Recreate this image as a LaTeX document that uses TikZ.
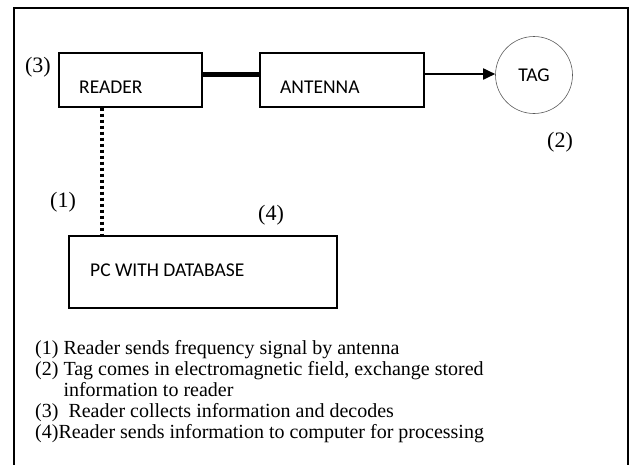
\documentclass[tikz,border=0pt]{standalone}
\usepackage{fontspec}
\setmainfont{Liberation Serif}
\newfontfamily\boxfont{Carlito}
\usetikzlibrary{arrows.meta, positioning}

\begin{document}
\begin{tikzpicture}[x=1pt, y=-1pt,
    block/.style={draw, line width=1.4pt, inner sep=0pt},
    boxlabel/.style={font=\boxfont\fontsize{19.5}{22}\selectfont, inner sep=0pt, anchor=west},
    numlabel/.style={font=\fontsize{22}{24}\selectfont, inner sep=0pt},
    legend/.style={font=\fontsize{20}{21}\selectfont, inner sep=0pt, align=left, anchor=base west}]
    \useasboundingbox (0,0) rectangle (632,464);
    % frame, open at the bottom
    \draw[line width=1.4pt] (14,470) -- (14,8) -- (628,8) -- (628,470);

    \node[block, minimum width=143pt, minimum height=54pt] (reader) at (130.5,80) {};
    \node[boxlabel] (readertext) at (79,87) {READER};
    \node[block, minimum width=164pt, minimum height=54pt] (antenna) at (342,80) {};
    \node[boxlabel] (antennatext) at (280,87) {ANTENNA};
    \node[draw, circle, gray!70!black, line width=0.6pt, minimum size=77pt, inner sep=0pt,
          text=black, font=\boxfont\fontsize{19.5}{22}\selectfont] (tag) at (534,75) {TAG};
    \node[block, minimum width=268pt, minimum height=72pt] (pc) at (203,272) {};
    \node[boxlabel] (pctext) at (90,270) {PC WITH DATABASE};

    \draw[line width=5pt] (reader.east |- 0,74) -- (antenna.west |- 0,74);
    \draw[line width=1.8pt, -{Triangle[length=12pt, width=11pt]}] (antenna.east |- 0,74) -- (tag.west |- 0,74);
    \draw[line width=3.5pt, dash pattern=on 3.5pt off 2.5pt] (reader.south -| 102,0) -- (pc.north -| 102,0);

    \node[numlabel] (n3) at (38,67) {(3)};
    \node[numlabel] (n2) at (560,142) {(2)};
    \node[numlabel] (n1) at (63,202) {(1)};
    \node[numlabel] (n4) at (271,215) {(4)};

    % base anchor sits on the last line
    \node[legend] (notes) at (35,438) {(1) Reader sends frequency signal by antenna\\
        (2) Tag comes in electromagnetic field, exchange stored\\
        \phantom{(2) }information to reader\\
        (3) \ Reader collects information and decodes\\
        (4)Reader sends information to computer for processing};
\end{tikzpicture}
\end{document}
